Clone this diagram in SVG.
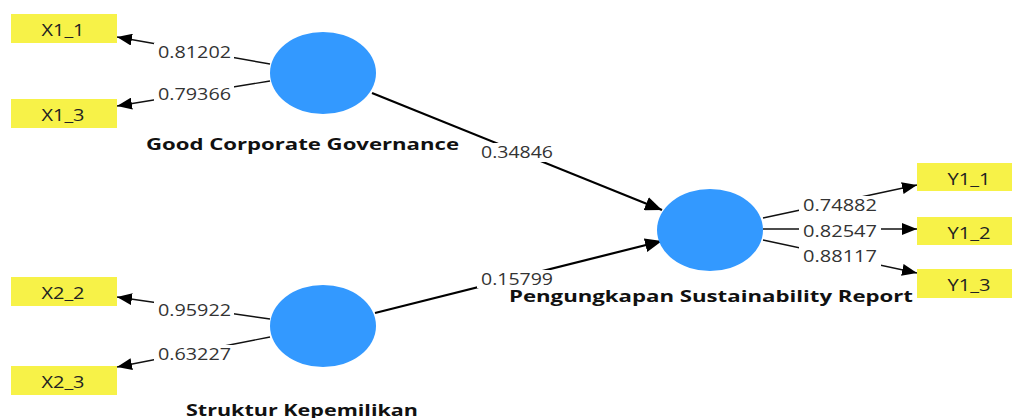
<svg xmlns="http://www.w3.org/2000/svg" width="1012" height="418" viewBox="0 0 1012 418">
<style>
.bg{fill:#ffffff}
.ind rect{fill:#F7F248}
.ind text{font-family:"Open Sans","Noto Sans","DejaVu Sans",sans-serif;font-size:16px;fill:#222;text-anchor:middle}
.lv ellipse{fill:#3399FF}
.lv text{font-family:"Open Sans","Noto Sans","DejaVu Sans",sans-serif;font-size:16px;font-weight:bold;fill:#111}
.ln{stroke:#111;stroke-width:1.4;fill:none;marker-end:url(#ah)}
.pth{stroke:#000;stroke-width:2.2;fill:none;marker-end:url(#ah2)}
.lbl rect{fill:#ffffff}
.lbl text{font-family:"Open Sans","Noto Sans","DejaVu Sans",sans-serif;font-size:16px;fill:#333}
</style>
<defs>
<marker id="ah" markerUnits="userSpaceOnUse" markerWidth="16" markerHeight="12" refX="15" refY="6" orient="auto">
<path d="M0,0 L15,6 L0,12 z" fill="#000"/>
</marker>
<marker id="ah2" markerUnits="userSpaceOnUse" markerWidth="18" markerHeight="14" refX="17" refY="7" orient="auto">
<path d="M0,0 L17,7 L0,14 z" fill="#000"/>
</marker>
</defs>
<rect class="bg" x="0" y="0" width="1012" height="418"/>

<g id="connectors">
<line class="ln" x1="270" y1="64" x2="117" y2="37"/>
<line class="ln" x1="270" y1="81" x2="117" y2="106"/>
<line class="ln" x1="270" y1="319" x2="117" y2="297"/>
<line class="ln" x1="270" y1="337" x2="117" y2="367"/>
<line class="pth" x1="372" y1="93" x2="662" y2="210"/>
<line class="pth" x1="375" y1="313" x2="662" y2="241"/>
<line class="ln" x1="763" y1="218" x2="917" y2="185"/>
<line class="ln" x1="763" y1="229" x2="917" y2="229"/>
<line class="ln" x1="763" y1="240" x2="917" y2="273"/>
<g class="lbl">
<rect x="154" y="43" width="80" height="19"/>
<text x="158" y="58" textLength="73" lengthAdjust="spacingAndGlyphs">0.81202</text>
<rect x="154" y="85" width="80" height="19"/>
<text x="158" y="100" textLength="73" lengthAdjust="spacingAndGlyphs">0.79366</text>
<rect x="154" y="301" width="80" height="19"/>
<text x="158" y="316" textLength="73" lengthAdjust="spacingAndGlyphs">0.95922</text>
<rect x="154" y="345" width="80" height="19"/>
<text x="158" y="360" textLength="73" lengthAdjust="spacingAndGlyphs">0.63227</text>
<rect x="477" y="143" width="80" height="19"/>
<text x="481" y="158" textLength="72" lengthAdjust="spacingAndGlyphs">0.34846</text>
<rect x="477" y="270" width="80" height="18"/>
<text x="481" y="285" textLength="72" lengthAdjust="spacingAndGlyphs">0.15799</text>
<rect x="799" y="196" width="82" height="19"/>
<text x="803" y="211" textLength="74" lengthAdjust="spacingAndGlyphs">0.74882</text>
<rect x="799" y="222" width="82" height="19"/>
<text x="803" y="237" textLength="74" lengthAdjust="spacingAndGlyphs">0.82547</text>
<rect x="799" y="247" width="82" height="19"/>
<text x="803" y="262" textLength="74" lengthAdjust="spacingAndGlyphs">0.88117</text>
</g>
</g>

<g id="X1_1" class="ind"><rect x="11" y="14" width="106" height="29"/><text x="63" y="36" textLength="43" lengthAdjust="spacingAndGlyphs">X1_1</text></g>
<g id="X1_3" class="ind"><rect x="11" y="99" width="106" height="29"/><text x="63" y="121" textLength="43" lengthAdjust="spacingAndGlyphs">X1_3</text></g>
<g id="X2_2" class="ind"><rect x="11" y="277" width="106" height="29"/><text x="63" y="299" textLength="43" lengthAdjust="spacingAndGlyphs">X2_2</text></g>
<g id="X2_3" class="ind"><rect x="11" y="366" width="106" height="29"/><text x="63" y="388" textLength="43" lengthAdjust="spacingAndGlyphs">X2_3</text></g>
<g id="Y1_1" class="ind"><rect x="917" y="163" width="106" height="28"/><text x="969" y="185" textLength="43" lengthAdjust="spacingAndGlyphs">Y1_1</text></g>
<g id="Y1_2" class="ind"><rect x="917" y="217" width="106" height="28"/><text x="969" y="239" textLength="43" lengthAdjust="spacingAndGlyphs">Y1_2</text></g>
<g id="Y1_3" class="ind"><rect x="917" y="269" width="106" height="29"/><text x="969" y="291" textLength="43" lengthAdjust="spacingAndGlyphs">Y1_3</text></g>

<g id="GCG" class="lv"><ellipse cx="323" cy="73" rx="53" ry="41"/><text x="146" y="150" textLength="313" lengthAdjust="spacingAndGlyphs">Good Corporate Governance</text></g>
<g id="SK" class="lv"><ellipse cx="323" cy="326" rx="53" ry="41"/><text x="186" y="416" textLength="232" lengthAdjust="spacingAndGlyphs">Struktur Kepemilikan</text></g>
<g id="PSR" class="lv"><ellipse cx="710" cy="230" rx="53" ry="41"/><text x="509" y="302" textLength="404" lengthAdjust="spacingAndGlyphs">Pengungkapan Sustainability Report</text></g>
</svg>
